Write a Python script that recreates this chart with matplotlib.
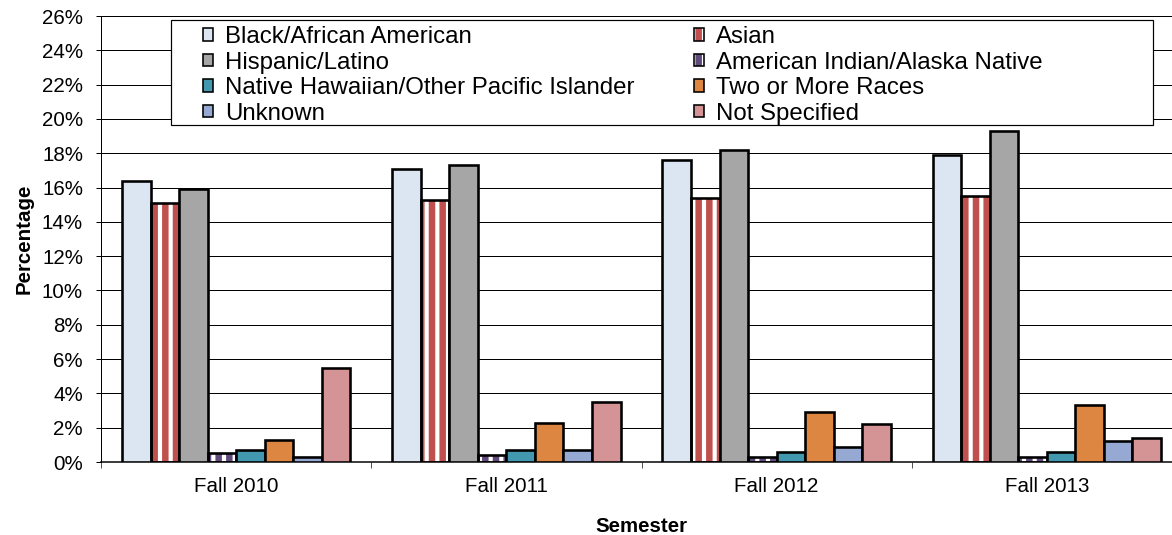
import numpy as np
import matplotlib
matplotlib.use("Agg")
import matplotlib.pyplot as plt
from matplotlib.patches import Patch, Rectangle
from matplotlib.ticker import PercentFormatter

# 64 dpi so the '|' hatch repeats roughly every 11 px, like the original
DPI = 64


def px(v):
    # pixel size -> points at this dpi
    return v * 72 / DPI


semesters = ["Fall 2010", "Fall 2011", "Fall 2012", "Fall 2013"]
groups = ["Black/African American", "Asian", "Hispanic/Latino",
          "American Indian/Alaska Native", "Native Hawaiian/Other Pacific Islander",
          "Two or More Races", "Unknown", "Not Specified"]

black_african_american = [16.4, 17.1, 17.6, 17.9]
asian = [15.1, 15.3, 15.4, 15.5]
hispanic_latino = [15.9, 17.3, 18.2, 19.3]
american_indian = [0.5, 0.4, 0.3, 0.3]
native_hawaiian = [0.7, 0.7, 0.6, 0.6]
two_or_more = [1.3, 2.3, 2.9, 3.3]
unknown = [0.3, 0.7, 0.9, 1.2]
not_specified = [5.5, 3.5, 2.2, 1.4]

series = [black_african_american, asian, hispanic_latino, american_indian,
          native_hawaiian, two_or_more, unknown, not_specified]
colors = ["#dce6f2", "#c0504d", "#a6a6a6", "#604a7b",
          "#4198af", "#dd8641", "#95a9d3", "#d49395"]
striped = [False, True, False, True, False, False, False, False]

plt.rcParams["font.family"] = ["Liberation Sans", "DejaVu Sans"]
plt.rcParams["hatch.linewidth"] = px(6.5)

fig = plt.figure(figsize=(1172 / DPI, 535 / DPI), dpi=DPI)
ax = fig.add_axes([101 / 1172, 1 - 462 / 535, 1081 / 1172, 446 / 535])

x = np.arange(len(semesters))
w = 0.1056
edge_lw = px(2.6)
handles = []
for i, (vals, name) in enumerate(zip(series, groups)):
    pos = x + (i - 3.5) * w
    if striped[i]:
        ax.bar(pos, vals, w, color="white", edgecolor=colors[i], linewidth=0,
               hatch="|", zorder=2)
        ax.bar(pos, vals, w, fill=False, edgecolor="black", linewidth=edge_lw, zorder=3)
        h = (Patch(facecolor="white", edgecolor=colors[i], hatch="|", linewidth=0),
             Patch(fill=False, edgecolor="black", linewidth=px(1.6)))
    else:
        ax.bar(pos, vals, w, color=colors[i], edgecolor="black", linewidth=edge_lw, zorder=3)
        h = Patch(facecolor=colors[i], edgecolor="black", linewidth=px(1.6))
    handles.append(h)

ax.set_xlim(-0.5, 3.5)
ax.set_ylim(0, 26)
ax.set_yticks(np.arange(0, 27, 2))
ax.yaxis.set_major_formatter(PercentFormatter(decimals=0))
ax.yaxis.grid(True, color="black", linewidth=px(1))
ax.set_axisbelow(True)

ax.set_xticks(x)
ax.set_xticklabels(semesters)
ax.set_xticks(np.arange(-0.5, 4.0, 1.0), minor=True)
ax.tick_params(axis="x", which="major", length=0, pad=px(15), labelsize=px(20.5))
ax.tick_params(axis="x", which="minor", length=px(6), width=px(1), color="#555555")
ax.tick_params(axis="y", length=px(5), width=px(1), pad=px(13), labelsize=px(20.5))

for s in ["top", "right"]:
    ax.spines[s].set_visible(False)
ax.spines["left"].set_linewidth(px(1))
ax.spines["bottom"].set_linewidth(px(1.5))

ax.set_xlabel("Semester", fontsize=px(20.5), fontweight="bold", labelpad=px(21))
ax.set_ylabel("Percentage", fontsize=px(20.5), fontweight="bold", labelpad=px(8))

# legend box (Excel style, wider than its contents)
box = Rectangle((171 / 1172, 1 - 125 / 535), 982 / 1172, 105 / 535,
                transform=fig.transFigure, facecolor="white", edgecolor="black",
                linewidth=px(1.2), zorder=4, clip_on=False)
ax.add_patch(box)

# legend fills row by row in the original, matplotlib fills column by column
order = [0, 2, 4, 6, 1, 3, 5, 7]
leg = ax.legend([handles[k] for k in order], [groups[k] for k in order], ncol=2,
                frameon=False, fontsize=px(24),
                loc="upper left", bbox_to_anchor=(203 / 1172, 1 - 26 / 535),
                bbox_transform=fig.transFigure, borderpad=0, borderaxespad=0,
                handlelength=0.42, handleheight=0.42, handletextpad=0.5,
                labelspacing=0.15, columnspacing=2.49)
leg.set_zorder(5)

fig.savefig("out.png", dpi=DPI)
